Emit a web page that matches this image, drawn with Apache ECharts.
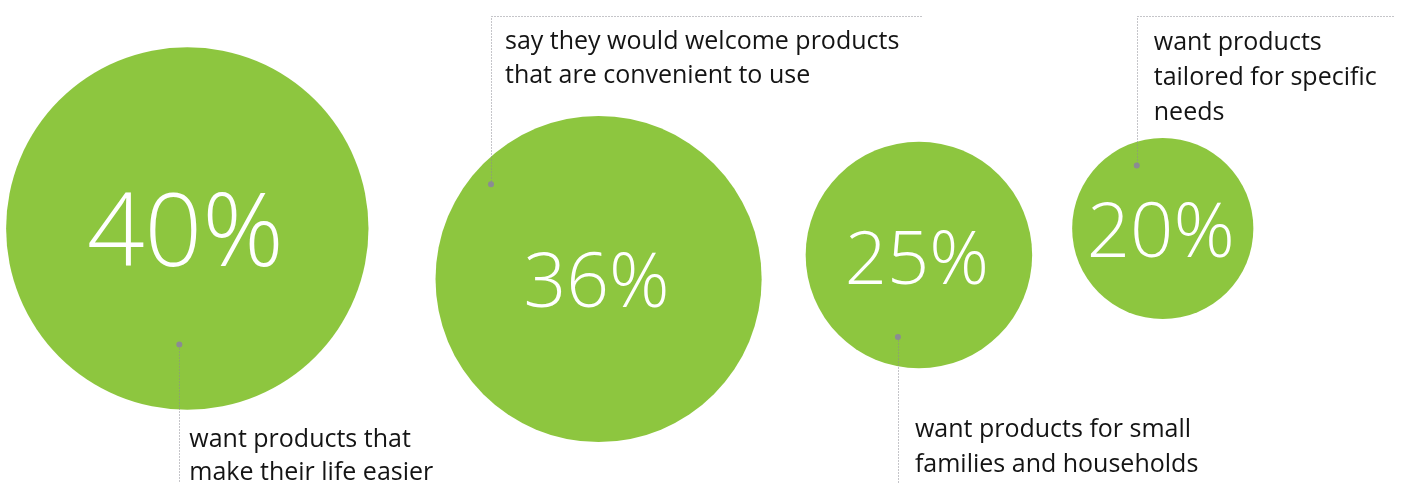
<!DOCTYPE html>
<html>
<head>
<meta charset="utf-8">
<script src="https://cdn.jsdelivr.net/npm/echarts@6/dist/echarts.min.js"></script>
<style>
  html, body { margin: 0; padding: 0; background: #ffffff; }
  #chart { width: 1403px; height: 483px; }
</style>
</head>
<body>
<div id="chart"></div>
<script>
// ---- data ----
const categories = ['Easier life', 'Convenient to use', 'Small households', 'Specific needs'];
const values = [40, 36, 25, 20];
const valueLabels = ['40%', '36%', '25%', '20%'];
const captions = [
  'want products that\nmake their life easier',
  'say they would welcome products\nthat are convenient to use',
  'want products for small\nfamilies and households',
  'want products\ntailored for specific\nneeds'
];

// ---- layout / style (not data) ----
const W = 1403, H = 483;
const pxPerPoint = 4.53;          // bubble radius per percentage point
const firstCenterX = 187.3;
const gaps = [67, 44, 40];        // white space between neighbouring bubbles
const centerY = [228.5, 279, 255, 228.5];
const labelSize = [101, 75, 74, 76];
const labelOffset = [[-2, 9], [-2, 7], [-2, 8], [-2, 7]];
const dotOffset = [[-8, 116], [-107.6, -94.7], [-21, 82], [-26, -63]];
const connector = ['down', 'up', 'down', 'up'];
const connectorTop = 15.5;
const connectorRight = [null, 923, null, 1395];
const captionOffset = [[10, 102], [14, -135], [17, 100], [17, -115.7]]; // to first baseline
const captionLineHeight = [33, 34, 35, 35];
const captionFont = 25;
const green = '#8dc63f';
const grey = '#8b8b93';

// bubble centres derived from the values and the gaps
const radii = values.map(v => v * pxPerPoint);
const centerX = [];
radii.forEach((r, i) => {
  if (i === 0) centerX.push(firstCenterX);
  else centerX.push(centerX[i - 1] + radii[i - 1] + gaps[i - 1] + r);
});

const bubbleData = values.map((v, i) => ({
  name: categories[i],
  value: [centerX[i], centerY[i], v],
  symbolSize: radii[i] * 2,
  label: {
    formatter: valueLabels[i],
    fontSize: labelSize[i],
    offset: labelOffset[i]
  }
}));

const annoData = values.map((v, i) => [centerX[i], centerY[i], i]);

const chart = echarts.init(document.getElementById('chart'), null, { renderer: 'canvas' });
chart.setOption({
  animation: false,
  backgroundColor: '#ffffff',
  grid: { left: 0, right: 0, top: 0, bottom: 0 },
  xAxis: { type: 'value', min: 0, max: W, show: false },
  yAxis: { type: 'value', min: 0, max: H, inverse: true, show: false },
  series: [
    {
      type: 'scatter',
      data: bubbleData,
      symbol: 'circle',
      itemStyle: { color: green, opacity: 1 },
      label: {
        show: true,
        position: 'inside',
        color: '#ffffff',
        fontFamily: 'Open Sans',
        fontWeight: 300
      },
      emphasis: { disabled: true },
      z: 1
    },
    {
      type: 'custom',
      data: annoData,
      z: 5,
      renderItem: function (params, api) {
        const i = api.value(2);
        const cx = api.value(0), cy = api.value(1);
        const dx = cx + dotOffset[i][0], dy = cy + dotOffset[i][1];
        const dot = api.coord([dx, dy]);
        let pts;
        if (connector[i] === 'down') {
          pts = [dot, api.coord([dx, H])];
        } else {
          pts = [dot, api.coord([dx, connectorTop]), api.coord([connectorRight[i], connectorTop])];
        }
        const lh = captionLineHeight[i];
        const baseline = dy + captionOffset[i][1];
        const tp = api.coord([dx + captionOffset[i][0], baseline]);
        const top = tp[1] - 0.285 * captionFont - lh / 2;
        return {
          type: 'group',
          children: [
            {
              type: 'polyline',
              shape: { points: pts.map(p => [Math.round(p[0]) + 0.5, Math.round(p[1]) + 0.5]) },
              style: { stroke: grey, lineWidth: 1, lineDash: [1, 2], fill: null }
            },
            {
              type: 'circle',
              shape: { cx: dot[0], cy: dot[1], r: 3 },
              style: { fill: grey }
            },
            {
              type: 'text',
              x: tp[0],
              y: top,
              style: {
                text: captions[i],
                fontSize: captionFont,
                fontFamily: 'Open Sans',
                lineHeight: lh,
                fill: '#141414',
                align: 'left',
                verticalAlign: 'top'
              }
            }
          ]
        };
      }
    }
  ]
});
</script>
</body>
</html>
